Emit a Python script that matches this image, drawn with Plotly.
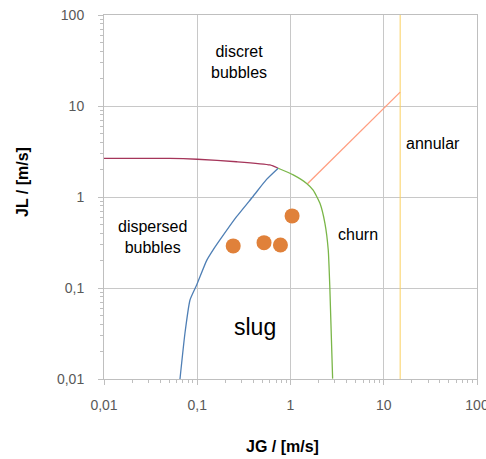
import plotly.graph_objects as go

# Flow-pattern map boundaries (JG, JL in m/s)
maroon_jg = [0.01, 0.051, 0.1, 0.264, 0.601, 0.738]
maroon_jl = [2.66, 2.66, 2.60, 2.44, 2.25, 2.07]

blue_jg = [0.0653, 0.0738, 0.0836, 0.0986, 0.126, 0.148, 0.175, 0.264, 0.398, 0.554, 0.738]
blue_jl = [0.01, 0.0318, 0.0738, 0.108, 0.200, 0.262, 0.337, 0.607, 1.02, 1.56, 2.07]

green_jg = [0.738, 1.07, 1.49, 1.75, 2.07, 2.34, 2.54, 2.64, 2.83]
green_jl = [2.07, 1.75, 1.41, 1.19, 0.853, 0.514, 0.262, 0.103, 0.0101]

salmon_jg = [1.52, 15.0]
salmon_jl = [1.40, 14.2]

yellow_jg = [15.0, 15.0]
yellow_jl = [0.01, 100.0]

# Measured points
pts_jg = [0.243, 0.52, 0.78, 1.04]
pts_jl = [0.29, 0.315, 0.297, 0.62]

tick_vals = [0.01, 0.1, 1, 10, 100]
tick_text = ["0,01", "0,1", "1", "10", "100"]

region_labels = ["discret<br>bubbles", "dispersed<br>bubbles", "churn", "annular", "slug"]
x_title = "JG / [m/s]"
y_title = "JL / [m/s]"

FONT = "Liberation Sans, Arial, sans-serif"

fig = go.Figure()

def add_line(x, y, color, spline=True, width=1.3):
    fig.add_trace(go.Scatter(
        x=x, y=y, mode="lines",
        line=dict(color=color, width=width, shape="spline" if spline else "linear", smoothing=0.5),
        showlegend=False, hoverinfo="skip"))

add_line(yellow_jg, yellow_jl, "#FAD060", spline=False, width=1)
add_line(salmon_jg, salmon_jl, "#FF9E80", spline=False)
add_line(maroon_jg, maroon_jl, "#A5355A")
add_line(blue_jg, blue_jl, "#4F7FB5")
add_line(green_jg, green_jl, "#7AB648")

fig.add_trace(go.Scatter(
    x=pts_jg, y=pts_jl, mode="markers",
    marker=dict(size=15, color="#E0813A", line=dict(width=0)),
    showlegend=False))

label_pos = [(0.3606, 0.871, 16), (0.130, 0.390, 16), (0.681, 0.396, 16), (0.882, 0.646, 16), (0.4035, 0.143, 23)]
for txt, (px, py, fs) in zip(region_labels, label_pos):
    fig.add_annotation(x=px, y=py, xref="paper", yref="paper", text=txt,
                       showarrow=False, font=dict(family=FONT, size=fs, color="#000000"),
                       align="center", xanchor="center", yanchor="middle")

fig.add_annotation(x=0.4786, y=-0.1868, xref="paper", yref="paper", text="<b>" + x_title + "</b>",
                   showarrow=False, font=dict(family=FONT, size=16, color="#000000"),
                   xanchor="center", yanchor="middle")
fig.add_annotation(x=-0.2185, y=0.5426, xref="paper", yref="paper", text="<b>" + y_title + "</b>",
                   showarrow=False, textangle=-90, font=dict(family=FONT, size=16, color="#000000"),
                   xanchor="center", yanchor="middle")

axis_common = dict(
    type="log",
    tickvals=tick_vals, ticktext=tick_text,
    showgrid=True, gridcolor="#C8C8C8", gridwidth=1,
    showline=True, linecolor="#BFBFBF", linewidth=1, mirror=True,
    ticks="outside", ticklen=5, tickcolor="#BFBFBF",
    tickfont=dict(family=FONT, size=14, color="#595959"),
    ticklabeloverflow="allow",
    automargin=False,
    zeroline=False,
    minor=dict(ticks="outside", ticklen=3, tickcolor="#BFBFBF", dtick="D1", showgrid=False),
)

fig.update_xaxes(range=[-2, 2], ticklabelstandoff=8, **axis_common)
fig.update_yaxes(range=[-2, 2], ticklabelstandoff=11, **axis_common)

fig.update_layout(
    width=486, height=459,
    margin=dict(l=104, r=9, t=15, b=80),
    paper_bgcolor="white", plot_bgcolor="white",
    showlegend=False,
)

fig.write_html("out.html")
